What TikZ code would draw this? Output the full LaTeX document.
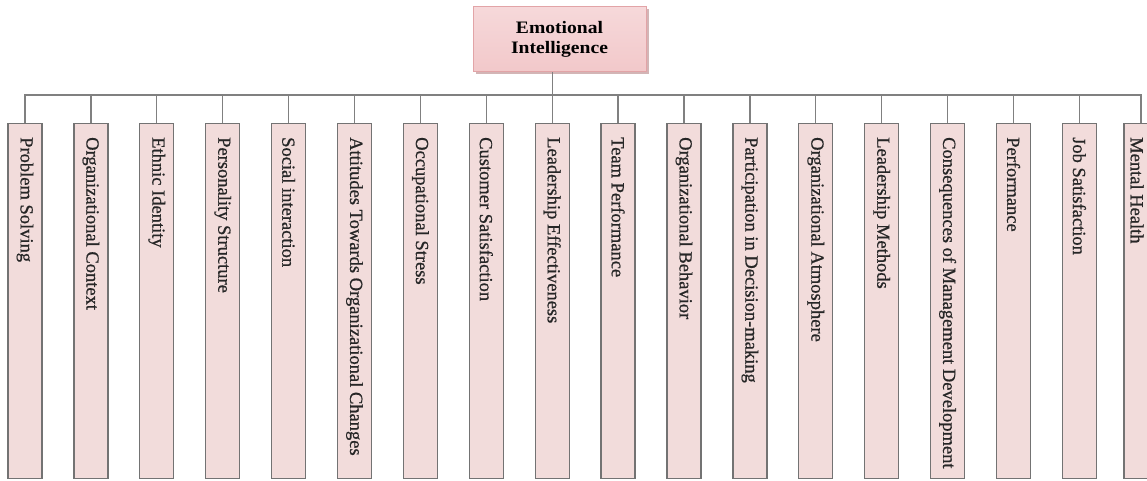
\documentclass[tikz,border=0pt]{standalone}
\usepackage{fontspec}
\setmainfont{Liberation Serif}
\newfontfamily\titlefont[FakeStretch=1.12]{Liberation Serif}
\newfontfamily\leaffont[FakeBold=0.7]{Liberation Serif}
\usetikzlibrary{shadows}
\definecolor{leafpink}{HTML}{F2DCDB}
\definecolor{rootpink}{HTML}{F2C8CA}
\definecolor{rootedge}{HTML}{E2A4A7}
\definecolor{linkgray}{HTML}{808080}

\begin{document}
\begin{tikzpicture}[x=1pt,y=1pt,
  root/.style={draw=rootedge,line width=1pt,top color=rootpink!70!white,bottom color=rootpink,
    minimum width=173pt,minimum height=65pt,align=center,
    font=\titlefont\bfseries\fontsize{17.5}{20}\selectfont,
    drop shadow={shadow xshift=2.5pt,shadow yshift=-2.5pt,fill=rootedge!80!black,opacity=.6}},
  leaf/.style={draw=linkgray!90!black,line width=1.3pt,fill=leafpink,inner sep=0pt,
    minimum width=34pt,minimum height=355pt,anchor=north},
  leaflbl/.style={rotate=-90,anchor=west,inner sep=0pt,text=black!85,
    font=\leaffont\fontsize{18.5}{20}\selectfont},
  link/.style={draw=linkgray,line width=1.3pt}]
\clip (0,0) rectangle (1147,480);
\node[root] (ei) at (559.5,440.5) {Emotional\\Intelligence};
\coordinate (bus) at (0,385);
% one column per factor
\foreach \t [count=\i] in {Problem Solving,Organizational Context,Ethnic Identity,
  Personality Structure,Social interaction,Attitudes Towards Organizational Changes,
  Occupational Stress,Customer Satisfaction,Leadership Effectiveness,Team Performance,
  Organizational Behavior,Participation in Decision-making,Organizational Atmosphere,
  Leadership Methods,Consequences of Management Development,Performance,
  Job Satisfaction}{
  \node[leaf] (b\i) at ({25+(\i-1)*65.9},357) {};
  \node[leaflbl] (t\i) at ([yshift=-14pt]b\i.north) {\t};
}
% last column, cut by the right edge
\node[leaf] (b18) at (1141,357) {};
\node[leaflbl] (t18) at ([xshift=-4pt,yshift=-14pt]b18.north) {Mental Health};
\draw[link] (b1.north) |- (b18.north |- bus) -- (b18.north);
\foreach \i in {2,...,17} \draw[link] (b\i.north) -- (b\i.north |- bus);
\draw[link] (b9.north |- ei.south) -- (b9.north |- bus);
\end{tikzpicture}
\end{document}
